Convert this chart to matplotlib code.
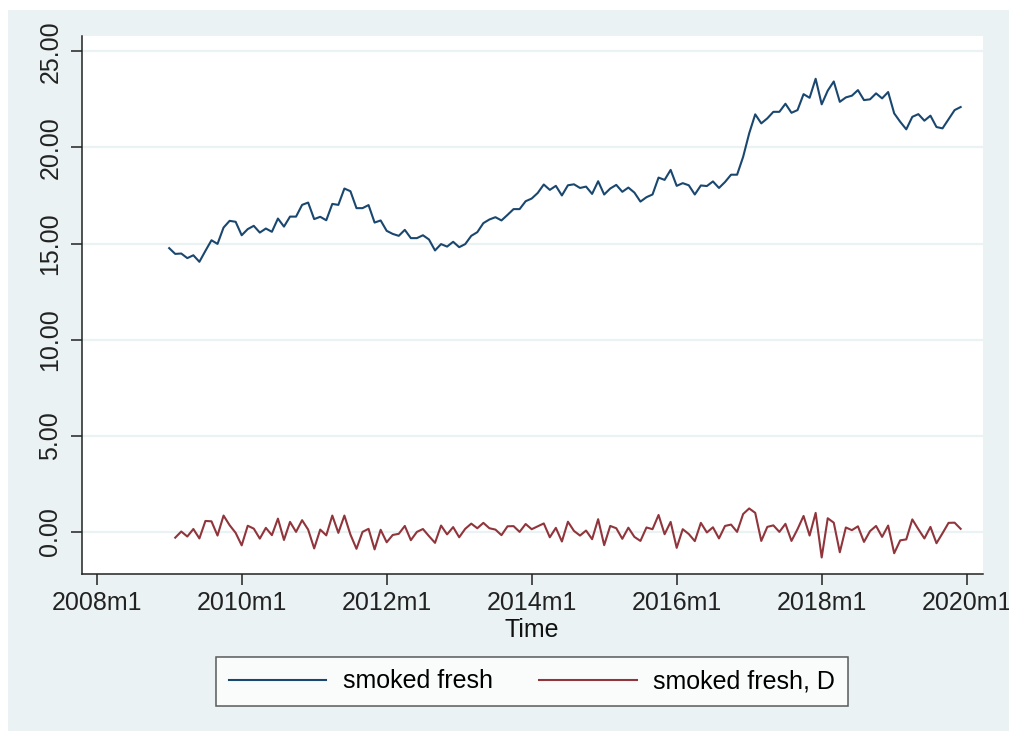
import numpy as np
import pandas as pd
import matplotlib
matplotlib.use("Agg")
import matplotlib.pyplot as plt
from matplotlib.patches import Rectangle

plt.rcParams['font.family'] = ['Liberation Sans', 'DejaVu Sans']

# monthly series, 2009m1 .. 2019m12
smoked = [14.76, 14.46, 14.48, 14.24, 14.39, 14.05, 14.62, 15.17, 14.98, 15.83, 16.18, 16.13,
          15.43, 15.75, 15.92, 15.57, 15.78, 15.61, 16.30, 15.88, 16.40, 16.40, 17.01, 17.13,
          16.27, 16.39, 16.21, 17.06, 17.01, 17.86, 17.72, 16.84, 16.84, 17.00, 16.09, 16.20,
          15.66, 15.50, 15.40, 15.71, 15.28, 15.28, 15.43, 15.21, 14.64, 14.97, 14.84, 15.09,
          14.81, 14.97, 15.40, 15.59, 16.06, 16.25, 16.37, 16.20, 16.49, 16.79, 16.79, 17.20,
          17.34, 17.63, 18.07, 17.79, 18.00, 17.50, 18.03, 18.08, 17.89, 17.96, 17.58, 18.24,
          17.55, 17.86, 18.05, 17.69, 17.91, 17.65, 17.18, 17.41, 17.55, 18.43, 18.31, 18.83,
          18.00, 18.14, 18.03, 17.55, 18.02, 17.99, 18.23, 17.89, 18.20, 18.58, 18.58, 19.51,
          20.73, 21.72, 21.25, 21.51, 21.85, 21.85, 22.27, 21.80, 21.94, 22.77, 22.58, 23.57,
          22.24, 22.95, 23.43, 22.37, 22.60, 22.69, 22.98, 22.46, 22.50, 22.81, 22.55, 22.88,
          21.77, 21.33, 20.94, 21.59, 21.73, 21.39, 21.65, 21.06, 20.99, 21.46, 21.94, 22.10]

# first difference, 2009m2 .. 2019m12
smoked_d = [-0.30, 0.02, -0.24, 0.15, -0.34, 0.57, 0.55, -0.19, 0.85, 0.35, -0.05,
            -0.70, 0.32, 0.17, -0.35, 0.21, -0.17, 0.69, -0.42, 0.52, 0.00, 0.61, 0.12,
            -0.86, 0.12, -0.18, 0.85, -0.05, 0.85, -0.14, -0.88, 0.00, 0.16, -0.91, 0.11,
            -0.54, -0.16, -0.10, 0.31, -0.43, 0.00, 0.15, -0.22, -0.57, 0.33, -0.13, 0.25,
            -0.28, 0.16, 0.43, 0.19, 0.47, 0.19, 0.12, -0.17, 0.29, 0.30, 0.00, 0.41,
            0.14, 0.29, 0.44, -0.28, 0.21, -0.50, 0.53, 0.05, -0.19, 0.07, -0.38, 0.66,
            -0.69, 0.31, 0.19, -0.36, 0.22, -0.26, -0.47, 0.23, 0.14, 0.88, -0.12, 0.52,
            -0.83, 0.14, -0.11, -0.48, 0.47, -0.03, 0.24, -0.34, 0.31, 0.38, 0.00, 0.93,
            1.22, 0.99, -0.47, 0.26, 0.34, 0.00, 0.42, -0.47, 0.14, 0.83, -0.19, 0.99,
            -1.33, 0.71, 0.48, -1.06, 0.23, 0.09, 0.29, -0.52, 0.04, 0.31, -0.26, 0.33,
            -1.11, -0.44, -0.39, 0.65, 0.14, -0.34, 0.26, -0.59, -0.07, 0.47, 0.48, 0.16]

xtick_labels = ["2008m1", "2010m1", "2012m1", "2014m1", "2016m1", "2018m1", "2020m1"]
ytick_vals = [0, 5, 10, 15, 20, 25]

dates = pd.period_range("2009-01", periods=len(smoked), freq="M")
t = (dates.year - 2008) * 12 + dates.month - 1
t_d = t[1:]

bg = "#EAF2F3"
navy = "#1A476F"
maroon = "#90353B"
fs = 18

fig = plt.figure(figsize=(10.09, 7.31), dpi=100, facecolor="white")
fig.patches.append(Rectangle((8 / 1009, 0), 1, 1 - 10 / 731, transform=fig.transFigure,
                             facecolor=bg, edgecolor="none", zorder=-10))

ax = fig.add_axes([81.7 / 1009, 1 - 574 / 731, (983 - 81.7) / 1009, (574 - 35.7) / 731])
ax.set_facecolor("white")

ax.plot(t, smoked, color=navy, lw=1.5, label="smoked fresh")
ax.plot(t_d, smoked_d, color=maroon, lw=1.5, label="smoked fresh, D")

ax.set_xlim(-2.48, 146.7)
ax.set_ylim(-2.19, 25.81)

ax.set_xticks([24 * i for i in range(len(xtick_labels))])
ax.set_xticklabels(xtick_labels)
ax.set_yticks(ytick_vals)
ax.set_yticklabels([f"{v:.2f}" for v in ytick_vals], rotation=90, va="center")

ax.tick_params(axis="both", labelsize=fs, colors="#222222", length=8, width=1.1)
ax.tick_params(axis="x", pad=4)
ax.tick_params(axis="y", pad=6)
for s in ["top", "right"]:
    ax.spines[s].set_visible(False)
for s in ["left", "bottom"]:
    ax.spines[s].set_color("#222222")
    ax.spines[s].set_linewidth(1.1)

ax.yaxis.grid(True, color=bg, lw=1.6)
ax.set_axisbelow(True)

fig.text(532 / 1009, 1 - 630 / 731, "Time", ha="center", va="center", fontsize=fs, color="#111111")

leg = ax.legend(loc="center", bbox_to_anchor=(532 / 1009, 1 - 681.5 / 731),
                bbox_transform=fig.transFigure, ncol=2, frameon=True, fancybox=False,
                fontsize=fs, handlelength=3.9, handletextpad=0.66, columnspacing=1.85,
                borderpad=0.5)
leg.get_frame().set_edgecolor("#333333")
leg.get_frame().set_linewidth(1.1)

fig.savefig("out.png", dpi=100, facecolor=fig.get_facecolor())
